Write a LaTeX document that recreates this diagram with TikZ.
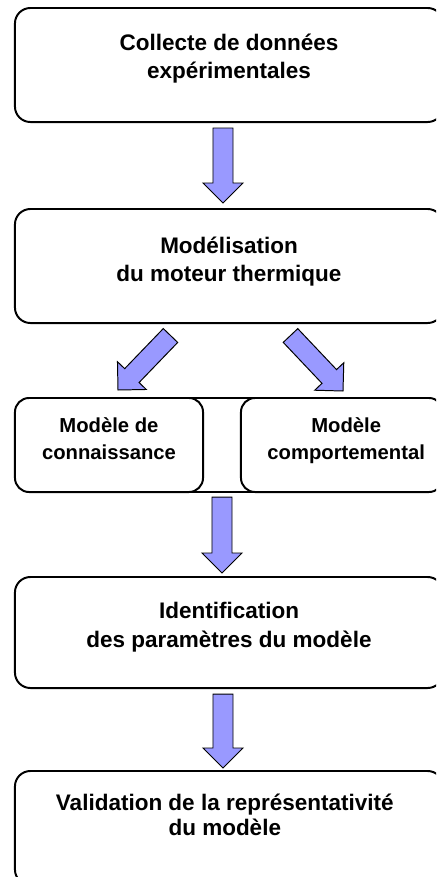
\documentclass[tikz,border=0pt]{standalone}
\usepackage{fontspec}
\setmainfont{Liberation Sans}
\usepackage{tikz}
\usetikzlibrary{calc,positioning}

\definecolor{bleufleche}{RGB}{153,153,255}

\tikzset{
  etape/.style={draw, line width=1.4pt, rounded corners=11pt, inner sep=0pt, outer sep=0pt,
    minimum width=10.7cm, minimum height=2.85cm},
  etapemod/.style={draw, line width=1.4pt, rounded corners=10pt, inner sep=0pt, outer sep=0pt,
    minimum height=2.35cm},
  titre/.style={inner sep=0pt, align=center, font=\fontsize{16}{20}\selectfont\bfseries},
  titremod/.style={inner sep=0pt, align=center, font=\fontsize{14.4}{19.2}\selectfont\bfseries},
  bloc/.style={fill=bleufleche, draw=black, line width=0.7pt, line join=miter}
}

% grosse fleche de #1 vers #2
\newcommand{\fleche}[2]{%
  \coordinate (#1-h) at ($(#2)!0.5cm!(#1)$);
  \filldraw[bloc] ($(#1)!0.25cm!90:(#2)$) -- ($(#1-h)!0.25cm!-90:(#1)$)
    -- ($(#1-h)!0.5cm!-90:(#1)$) -- (#2) -- ($(#1-h)!0.5cm!90:(#1)$)
    -- ($(#1-h)!0.25cm!90:(#1)$) -- ($(#1)!0.25cm!-90:(#2)$) -- cycle;
}

\begin{document}
\begin{tikzpicture}[x=0.025cm, y=-0.025cm]

\clip (0,0) rectangle (436,877);

% les etapes
\node[etape] (collecte) at (229,65) {};
\node[titre, below=18.5pt of collecte.north] (t-collecte) {Collecte de données\\expérimentales};

\node[etape] (modelisation) at (229,266) {};
\node[titre, below=19.5pt of modelisation.north] (t-modelisation) {Modélisation\\du moteur thermique};

\node[etapemod, minimum width=4.7cm] (connaissance) at (109,445) {};
\node[titremod, below=14pt of connaissance.north] (t-connaissance) {Modèle de\\connaissance};

\node[etapemod, minimum width=5.05cm] (comportemental) at (342,445) {};
\node[titremod, below=14pt of comportemental.north, xshift=3pt] (t-comportemental) {Modèle\\comportemental};

\draw[line width=1.4pt] (connaissance.north) -- (comportemental.north);
\draw[line width=1.4pt] (connaissance.south) -- (comportemental.south);

\node[etape, minimum height=2.775cm] (identification) at (229,632.5) {};
\node[titre, below=18pt of identification.north] (t-identification) {Identification\\des paramètres du modèle};

\node[etape] (validation) at (229,828) {};
\node[titre, below=16pt of validation.north, xshift=-3pt] (t-validation) {Validation de la représentativité\\[-2.2pt]du modèle};

% les fleches
\coordinate (f1) at (223,128);
\coordinate (f1b) at (223,203);
\fleche{f1}{f1b}

\coordinate (f2) at (170.5,335.5);
\coordinate (f2b) at (118,390);
\fleche{f2}{f2b}

\coordinate (f3) at (290.5,335.5);
\coordinate (f3b) at (343,391);
\fleche{f3}{f3b}

\coordinate (f4) at (222,497);
\coordinate (f4b) at (222,573);
\fleche{f4}{f4b}

\coordinate (f5) at (223,694);
\coordinate (f5b) at (223,768);
\fleche{f5}{f5b}

\end{tikzpicture}
\end{document}
